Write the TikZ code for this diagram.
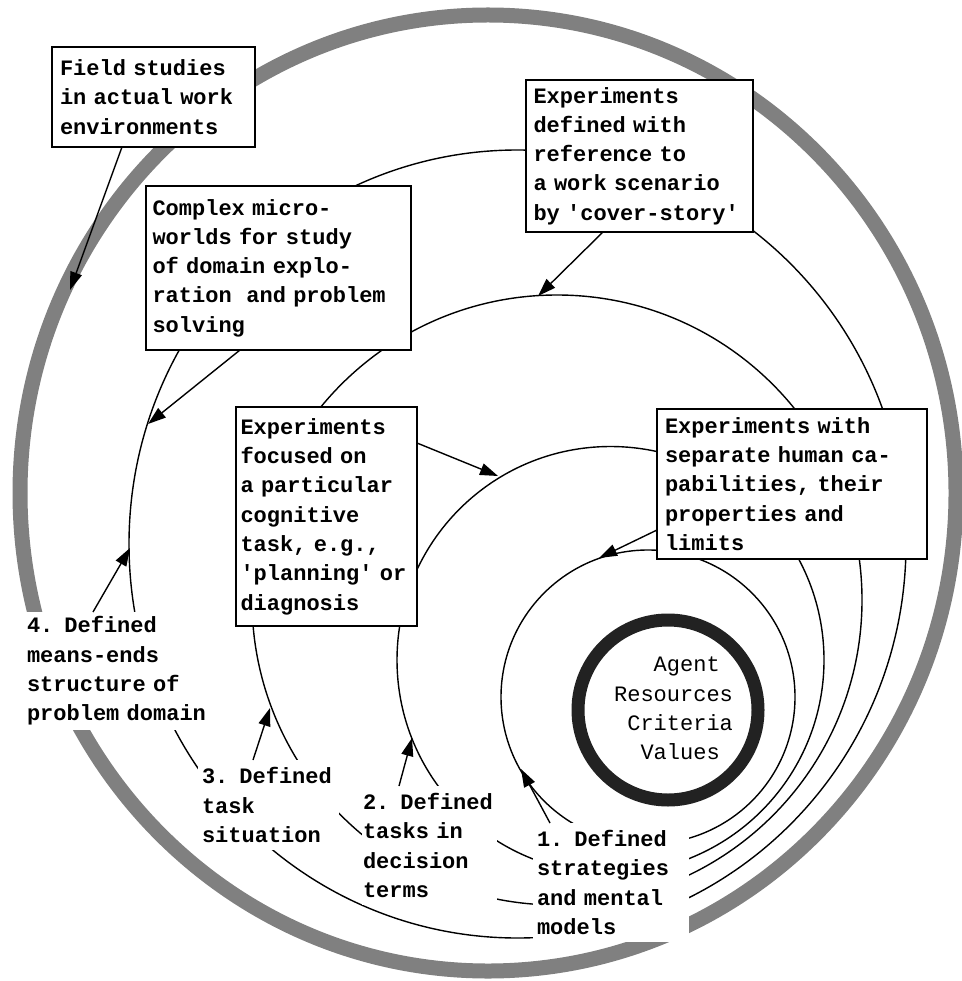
\documentclass[tikz,border=0pt]{standalone}
\usepackage{fontspec}
\setmonofont{Liberation Mono}
\usetikzlibrary{arrows.meta}
\definecolor{ringgray}{HTML}{808080}
\definecolor{coredark}{HTML}{222222}
\begin{document}
\begin{tikzpicture}[x=1pt,y=-1pt,
  txt/.style={font=\ttfamily\bfseries\fontsize{22}{29.3}\selectfont},
  expbox/.style={txt, draw, line width=1.4pt, fill=white, anchor=north west, align=left, inner ysep=0pt, outer sep=0pt},
  lab/.style={txt, fill=white, anchor=north west, align=left, inner ysep=0pt, outer sep=0pt},
  orbit/.style={line width=1.4pt},
  conn/.style={line width=1.4pt, -{Triangle[length=18pt,width=12pt]}},
]
\useasboundingbox (0,0) rectangle (961,981);
% centres
\coordinate (o) at (488,493);
\coordinate (k) at (668,710);
\coordinate (c1) at (648,697);
\coordinate (c2) at (610.5,660);
\coordinate (c3) at (557,600);
\coordinate (c4) at (517.5,544);
% rings and orbits
\draw[ringgray, line width=15pt] (o) ellipse [x radius=468pt, y radius=478pt];
\draw[orbit] (c4) ellipse [x radius=388.5pt, y radius=394pt];
\draw[orbit] (c3) circle [radius=305pt];
\draw[orbit] (c2) circle [radius=213.5pt];
\draw[orbit] (c1) circle [radius=147pt];
\draw[coredark, line width=13pt] (k) circle [radius=90pt];
\node[font=\ttfamily\fontsize{22}{29.3}\selectfont, align=left, inner sep=0pt] (core) at (673.5,708.5)
  {\hphantom{Res}Agent\\Resources\\\hphantom{R}Criteria\\\hphantom{Re}Values};
% experiment boxes
\node[expbox, text width=187pt, inner xsep=8pt, minimum height=100pt] (field) at (52,47)
  {Field studies\\in actual work\\environments};
\node[expbox, text width=252pt, inner xsep=6.5pt, minimum height=164pt] (complex) at (146,186)
  {Complex micro-\\worlds for study\\of domain explo-\\ration\ \ and problem\\solving};
\node[expbox, text width=212pt, inner xsep=7.5pt, minimum height=152pt] (cover) at (526,80)
  {Experiments\\defined with\\reference to\\a work scenario\\by 'cover-story'};
\node[expbox, text width=172pt, inner xsep=4.5pt, minimum height=219pt] (focused) at (236,407)
  {Experiments\\focused on\\a particular\\cognitive\\task, e.g.,\\'planning' or\\diagnosis};
\node[expbox, text width=254pt, inner xsep=8pt, minimum height=150pt] (capab) at (657,409)
  {Experiments with\\separate human ca-\\pabilities, their\\properties and\\limits};
% level labels
\node[lab, text width=186pt, inner xsep=12pt, minimum height=118pt] (lab4) at (15,612)
  {4. Defined\\means-ends\\structure of\\problem domain};
\node[lab, text width=133pt, inner xsep=4pt, minimum height=90pt] (lab3) at (198,760)
  {3. Defined\\task\\situation};
\node[lab, text width=133pt, inner xsep=1pt, minimum height=119pt] (lab2) at (362,786)
  {2. Defined\\tasks in\\decision\\terms};
\node[lab, text width=148pt, inner xsep=4pt, minimum height=119pt] (lab1) at (533,823)
  {1. Defined\\strategies\\and mental\\models};
% arrow targets on the orbits
\coordinate (tF) at (70,290);
\coordinate (t4a) at (148,424);
\coordinate (t3a) at (538,296);
\coordinate (t2a) at (498,476);
\coordinate (t1a) at (599,558);
\coordinate (t4b) at (130,548);
\coordinate (t3b) at (270,708);
\coordinate (t2b) at (412,738);
\coordinate (t1b) at (521,769);
% connectors
\draw[conn] ([xshift=70pt]field.south west) -- (tF);
\draw[conn] ([xshift=94pt]complex.south west) -- (t4a);
\draw[conn] ([xshift=77pt]cover.south west) -- (t3a);
\draw[conn] ([yshift=-36pt]focused.north east) -- (t2a);
\draw[conn] ([yshift=-121pt]capab.north west) -- (t1a);
\draw[conn] ([xshift=78pt]lab4.north west) -- (t4b);
\draw[conn] ([xshift=55pt]lab3.north west) -- (t3b);
\draw[conn] ([xshift=37pt]lab2.north west) -- (t2b);
\draw[conn] ([xshift=17pt]lab1.north west) -- (t1b);
\end{tikzpicture}
\end{document}
